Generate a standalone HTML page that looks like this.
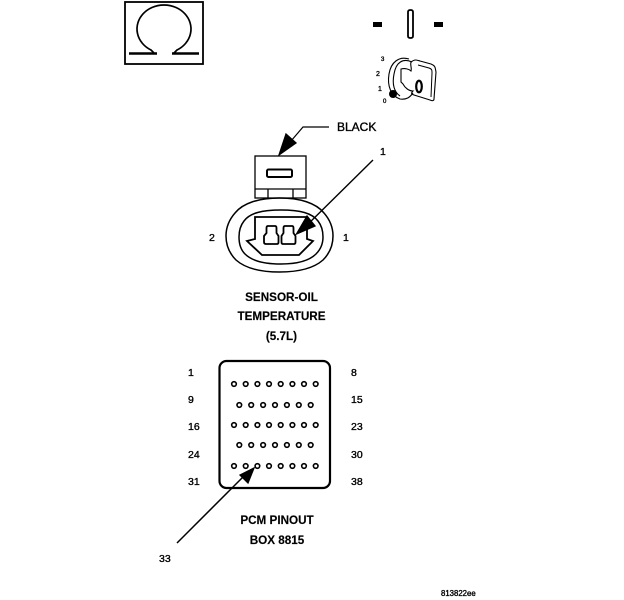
<!DOCTYPE html>
<html>
<head>
<meta charset="utf-8">
<style>
html,body{margin:0;padding:0;background:#fff;width:624px;height:600px;overflow:hidden}
svg{display:block}
text{font-family:"Liberation Sans",sans-serif;font-size:10.5px;fill:#000;stroke:#000;stroke-width:.35}
.b{font-weight:bold;font-size:11.7px;stroke-width:.15;text-anchor:middle}
</style>
</head>
<body>
<svg width="624" height="600" viewBox="0 0 624 600" xmlns="http://www.w3.org/2000/svg">
<g fill="none" stroke="#000" stroke-width="1.300">
<!-- Omega -->
<rect x="125" y="2" width="78" height="62" stroke-width="1.800"/>
<path d="M154 53 L151 50 A27 24 0 1 1 177 50 L174 53" stroke-width="1.700"/>
<path d="M129 53.500H157M172 53.500H199" stroke-width="2.600"/>

<!-- Top icons -->
<rect x="373" y="22" width="9" height="5" fill="#000" stroke="none"/>
<rect x="434" y="22" width="9" height="5" fill="#000" stroke="none"/>
<path d="M408 12 Q408 10 410.500 10 Q413 10 413 12 V36 Q413 38 410.500 38 Q408 38 408 36Z" stroke-width="1.800"/>

<!-- Key -->
<path d="M409 59 C399 56 391 62 389 74 C387 86 391 96 400 99 C407 100 410 97 413 93" stroke-width="1.100"/>
<path d="M412 62 C403 58 396 62 394 74 C392 84 394 92 400 96" stroke-width="1.100"/>
<path d="M411 62 C415 59 417 60 420 61 L431 64 C436 66 435 68 436 72 L434 99 C434 101 432 101 430 100 L414 95 C411 94 411 93 413 91 C409 91 405 88 403 84 L401 82 V69 C405 68 409 69 411 71 C412 68 410 65 411 62Z" stroke-width="1.100"/>
<path d="M418 65 L429 68 C432 69 432 70 432 73 L431 97" stroke-width="1"/>
<ellipse cx="393" cy="94" rx="4" ry="4" fill="#000" stroke="none"/>
<ellipse cx="419" cy="86.500" rx="2.800" ry="5.800" stroke-width="2.200"/>

<!-- Sensor connector -->
<rect x="255" y="156" width="51" height="42"/>
<path d="M255 189H306M268 189V198M293 189V198"/>
<rect x="267" y="169.500" width="25" height="7.500" rx="1.500" stroke-width="2"/>
<path d="M279.500 198 C300 198 316 203 324 213 C331 221 333 229 333 236 C333 244 331 252 323 260 C314 268 300 272 279.500 272 C259 272 245 268 236 260 C228 252 226 244 226 236 C226 229 228 221 235 213 C243 203 259 198 279.500 198Z" stroke-width="1.500"/>
<path d="M281 210 C300 210 312 213 318 221 C322 226 323 232 323 237 C323 243 321 249 316 254 C309 261 298 264 281 264 C264 264 252 261 245 254 C240 249 239 243 239 237 C239 232 240 226 244 221 C250 213 262 210 281 210Z" stroke-width="1.500"/>
<path d="M255 217H307V239L313 241 299 255H262L247 241 255 239Z" stroke-width="1.800"/>
<path d="M268 226H275Q276.500 226 276.500 228V233L278.500 236V242Q278.500 244 277 244H266Q264 244 264 242V236L266.500 233V228Q266.500 226 268 226Z" stroke-width="1.800"/>
<path d="M285 226H292Q293.500 226 293.500 228V233L295.500 236V242Q295.500 244 294 244H283Q281.500 244 281.500 242V236L283.500 233V228Q283.500 226 285 226Z" stroke-width="1.800"/>
<path d="M373 160L300 232" stroke-width="1.400"/>
<path d="M296.500 234 L307 216 L315 226Z" fill="#000" stroke="#000"/>

<!-- Black arrow -->
<path d="M329 127H303L279 155" stroke-width="1.200"/>
<path d="M279 155 L286 134 L296 143Z" fill="#000" stroke="#000"/>

<!-- PCM box -->
<rect x="219.500" y="361" width="110.500" height="127" rx="7" stroke-width="2.200"/>
<g stroke-width="1.600">
<circle cx="234" cy="384" r="2.300"/><circle cx="245.700" cy="384" r="2.300"/><circle cx="257.400" cy="384" r="2.300"/><circle cx="269" cy="384" r="2.300"/><circle cx="280.700" cy="384" r="2.300"/><circle cx="292.400" cy="384" r="2.300"/><circle cx="304" cy="384" r="2.300"/><circle cx="315.700" cy="384" r="2.300"/>
<circle cx="239.300" cy="405" r="2.300"/><circle cx="251.200" cy="405" r="2.300"/><circle cx="263.100" cy="405" r="2.300"/><circle cx="275" cy="405" r="2.300"/><circle cx="286.900" cy="405" r="2.300"/><circle cx="298.800" cy="405" r="2.300"/><circle cx="310.700" cy="405" r="2.300"/>
<circle cx="234" cy="425" r="2.300"/><circle cx="245.700" cy="425" r="2.300"/><circle cx="257.400" cy="425" r="2.300"/><circle cx="269" cy="425" r="2.300"/><circle cx="280.700" cy="425" r="2.300"/><circle cx="292.400" cy="425" r="2.300"/><circle cx="304" cy="425" r="2.300"/><circle cx="315.700" cy="425" r="2.300"/>
<circle cx="239.300" cy="445" r="2.300"/><circle cx="251.200" cy="445" r="2.300"/><circle cx="263.100" cy="445" r="2.300"/><circle cx="275" cy="445" r="2.300"/><circle cx="286.900" cy="445" r="2.300"/><circle cx="298.800" cy="445" r="2.300"/><circle cx="310.700" cy="445" r="2.300"/>
<circle cx="234" cy="466" r="2.300"/><circle cx="245.700" cy="466" r="2.300"/><circle cx="257.400" cy="466" r="2.300"/><circle cx="269" cy="466" r="2.300"/><circle cx="280.700" cy="466" r="2.300"/><circle cx="292.400" cy="466" r="2.300"/><circle cx="304" cy="466" r="2.300"/><circle cx="315.700" cy="466" r="2.300"/>
</g>
<path d="M177 543L247 473" stroke-width="1.500"/>
<path d="M254 468 L248 483 L240 475Z" fill="#000" stroke="#000"/>
</g>

<!-- Key position labels -->
<text x="381" y="61" style="font-size:6px">3</text>
<text x="376" y="76" style="font-size:7px">2</text>
<text x="378" y="91" style="font-size:7px">1</text>
<text x="383" y="103" style="font-size:6px">0</text>

<!-- Sensor labels -->
<text x="337" y="131" style="font-size:12px">BLACK</text>
<text x="380" y="155">1</text>
<text x="209" y="241">2</text>
<text x="343" y="241">1</text>
<text class="b" x="281.500" y="301">SENSOR-OIL</text>
<text class="b" x="281.500" y="320">TEMPERATURE</text>
<text class="b" x="281.500" y="340">(5.7L)</text>

<!-- PCM labels -->
<text x="188" y="376">1</text>
<text x="188" y="403">9</text>
<text x="188" y="430">16</text>
<text x="188" y="458">24</text>
<text x="188" y="485">31</text>
<text x="351" y="376">8</text>
<text x="351" y="403">15</text>
<text x="351" y="430">23</text>
<text x="351" y="458">30</text>
<text x="351" y="485">38</text>
<text class="b" x="277" y="524">PCM PINOUT</text>
<text class="b" x="277" y="544">BOX 8815</text>
<text x="159" y="562">33</text>
<text x="441" y="596" style="font-size:7.800px">813822ee</text>
</svg>
</body>
</html>
